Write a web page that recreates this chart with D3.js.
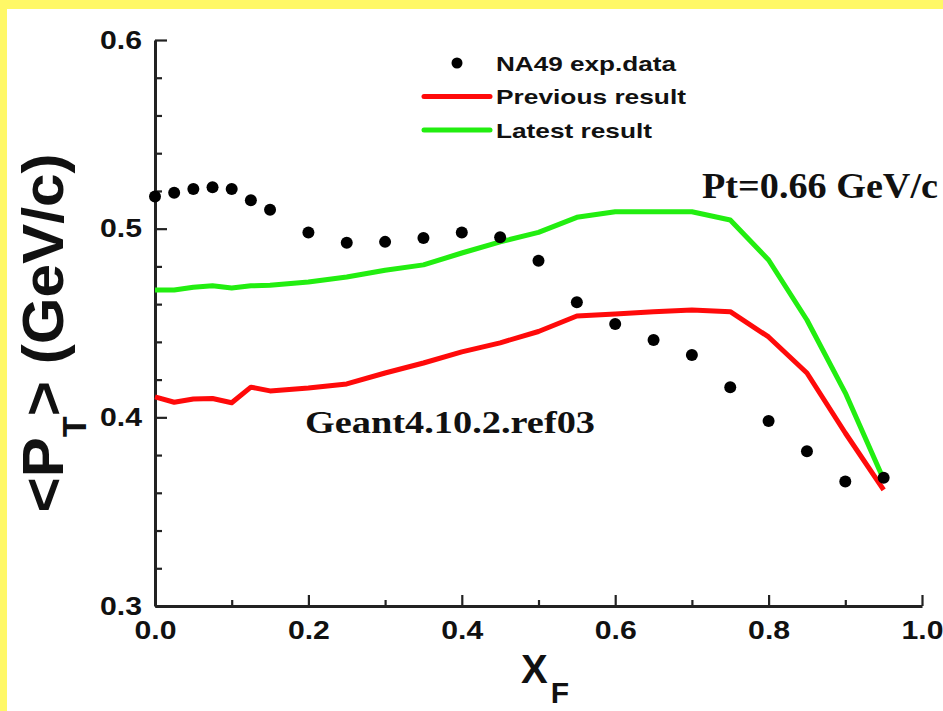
<!DOCTYPE html>
<html>
<head>
<meta charset="utf-8">
<script src="https://cdn.jsdelivr.net/npm/d3@7"></script>
<style>
  html, body { margin: 0; padding: 0; background: #fff866; }
  svg { display: block; }
</style>
</head>
<body>
<svg id="chart" width="943" height="711"></svg>
<script>
// Mean transverse momentum versus Feynman x
const xF = [0.0, 0.025, 0.05, 0.075, 0.1, 0.125, 0.15, 0.2, 0.25, 0.3, 0.35, 0.4,
            0.45, 0.5, 0.55, 0.6, 0.65, 0.7, 0.75, 0.8, 0.85, 0.9, 0.95];
const na49 = [0.517, 0.519, 0.521, 0.522, 0.521, 0.515, 0.510, 0.498, 0.4925, 0.493, 0.495, 0.498,
              0.4955, 0.483, 0.461, 0.4495, 0.441, 0.433, 0.416, 0.398, 0.382, 0.366, 0.368];
const previousResult = [0.4108, 0.408, 0.4097, 0.410, 0.4077, 0.416, 0.414, 0.4156, 0.4177, 0.4235, 0.4288, 0.4347,
                        0.4395, 0.4455, 0.4537, 0.4548, 0.456, 0.4569, 0.456, 0.4426, 0.4235, 0.3917, 0.3615];
const latestResult = [0.4675, 0.4675, 0.469, 0.4697, 0.4686, 0.4697, 0.470, 0.4717, 0.4744, 0.478, 0.4808, 0.4871,
                      0.493, 0.498, 0.506, 0.509, 0.509, 0.509, 0.5046, 0.4834, 0.4516, 0.413, 0.367];

const xTicks = [0.0, 0.2, 0.4, 0.6, 0.8, 1.0];
const xMinorTicks = [0.1, 0.3, 0.5, 0.7, 0.9];
const yTicks = [0.3, 0.4, 0.5, 0.6];
const yMinorTicks = [0.32, 0.34, 0.36, 0.38, 0.42, 0.44, 0.46, 0.48, 0.52, 0.54, 0.56, 0.58];

const legendItems = [
  { label: "NA49 exp.data", kind: "dot", width: 180 },
  { label: "Previous result", kind: "line", color: "#ff0a0a", width: 190 },
  { label: "Latest result", kind: "line", color: "#22ee10", width: 156 }
];

const svg = d3.select("#chart");
const sans = "'Liberation Sans', Arial, sans-serif";
const serif = "'Liberation Serif', 'Times New Roman', serif";

// white panel inside the yellow frame
svg.append("rect").attr("x", 7).attr("y", 9).attr("width", 936).attr("height", 702).attr("fill", "#ffffff");

const x = d3.scaleLinear().domain([0, 1]).range([155, 922]);
const y = d3.scaleLinear().domain([0.3, 0.6]).range([606, 40]);

// stretch a text element's glyphs to a given advance width
function stretch(sel, w) {
  sel.attr("textLength", w).attr("lengthAdjust", "spacingAndGlyphs");
}

// axes with inward ticks
const axisColor = "#222";
const gx = svg.append("g").attr("transform", `translate(0,${y(0.3)})`)
  .call(d3.axisBottom(x).tickValues(xMinorTicks).tickSizeInner(-6).tickSizeOuter(0).tickFormat(""));
gx.selectAll(".tick line").attr("stroke", axisColor).attr("stroke-width", 2.2);
gx.select(".domain").remove();
const gxMajor = svg.append("g").attr("transform", `translate(0,${y(0.3)})`)
  .call(d3.axisBottom(x).tickValues(xTicks).tickSizeInner(-11).tickSizeOuter(0).tickPadding(15).tickFormat(d3.format(".1f")));
gxMajor.select(".domain").attr("stroke", axisColor).attr("stroke-width", 3);
gxMajor.selectAll(".tick line").attr("stroke", axisColor).attr("stroke-width", 2.2);
gxMajor.selectAll(".tick text").attr("font-family", sans).attr("font-weight", "bold")
  .attr("font-size", 25).attr("fill", "#111").call(stretch, 42);

const gy = svg.append("g").attr("transform", `translate(${x(0)},0)`)
  .call(d3.axisLeft(y).tickValues(yMinorTicks).tickSizeInner(-7).tickSizeOuter(0).tickFormat(""));
gy.selectAll(".tick line").attr("stroke", axisColor).attr("stroke-width", 2.2);
gy.select(".domain").remove();
const gyMajor = svg.append("g").attr("transform", `translate(${x(0)},0)`)
  .call(d3.axisLeft(y).tickValues(yTicks).tickSizeInner(-12).tickSizeOuter(0).tickPadding(13).tickFormat(d3.format(".1f")));
gyMajor.select(".domain").attr("stroke", axisColor).attr("stroke-width", 3);
gyMajor.selectAll(".tick line").attr("stroke", axisColor).attr("stroke-width", 2.2);
gyMajor.selectAll(".tick text").attr("font-family", sans).attr("font-weight", "bold")
  .attr("font-size", 25).attr("fill", "#111").call(stretch, 42);

// model curves
const line = d3.line().x(d => x(d[0])).y(d => y(d[1]));
svg.append("path").datum(d3.zip(xF, previousResult)).attr("d", line)
  .attr("fill", "none").attr("stroke", legendItems[1].color).attr("stroke-width", 5).attr("stroke-linejoin", "round");
svg.append("path").datum(d3.zip(xF, latestResult)).attr("d", line)
  .attr("fill", "none").attr("stroke", legendItems[2].color).attr("stroke-width", 5).attr("stroke-linejoin", "round");

// measured points
svg.append("g").selectAll("circle").data(d3.zip(xF, na49)).join("circle")
  .attr("cx", d => x(d[0])).attr("cy", d => y(d[1])).attr("r", 6).attr("fill", "#000");

// legend
const legend = svg.append("g");
legendItems.forEach((it, i) => {
  const cy = 63 + i * 33.5;
  if (it.kind === "dot") {
    legend.append("circle").attr("cx", 457).attr("cy", cy).attr("r", 5.5).attr("fill", "#000");
  } else {
    legend.append("line").attr("x1", 424).attr("x2", 490).attr("y1", cy).attr("y2", cy)
      .attr("stroke", it.color).attr("stroke-width", 5).attr("stroke-linecap", "round");
  }
  legend.append("text").attr("x", 496).attr("y", cy + 7.5).text(it.label)
    .attr("font-family", sans).attr("font-weight", "bold").attr("font-size", 21).attr("fill", "#111")
    .call(stretch, it.width);
});

// annotations
svg.append("text").attr("x", 702).attr("y", 198).text("Pt=0.66 GeV/c")
  .attr("font-family", serif).attr("font-weight", "bold").attr("font-size", 36).attr("fill", "#111")
  .call(stretch, 236);
svg.append("text").attr("x", 305).attr("y", 433).text("Geant4.10.2.ref03")
  .attr("font-family", serif).attr("font-weight", "bold").attr("font-size", 31).attr("fill", "#111")
  .call(stretch, 290);

// axis titles
const yTitleG = svg.append("g").attr("transform", "translate(63,333) rotate(-90)");
const yTitle = yTitleG.append("text")
  .attr("font-family", sans).attr("font-weight", "bold")
  .attr("font-size", 58).attr("fill", "#111");
yTitle.append("tspan").text("<P");
yTitle.append("tspan").text("T").attr("font-size", 33).attr("dy", 23);
yTitle.append("tspan").text(">").attr("dy", -23);
yTitle.append("tspan").text(" (GeV/c)");
{
  const bb = yTitle.node().getBBox();
  const s = 359 / bb.width;
  yTitle.attr("transform", `scale(${s},1) translate(${-bb.x - bb.width / 2},0)`);
}

const xTitle = svg.append("text").attr("x", 521).attr("y", 683)
  .attr("font-family", sans).attr("font-weight", "bold").attr("font-size", 40).attr("fill", "#111");
xTitle.append("tspan").text("X");
xTitle.append("tspan").text("F").attr("font-size", 30).attr("dx", 3).attr("dy", 20);
</script>
</body>
</html>
